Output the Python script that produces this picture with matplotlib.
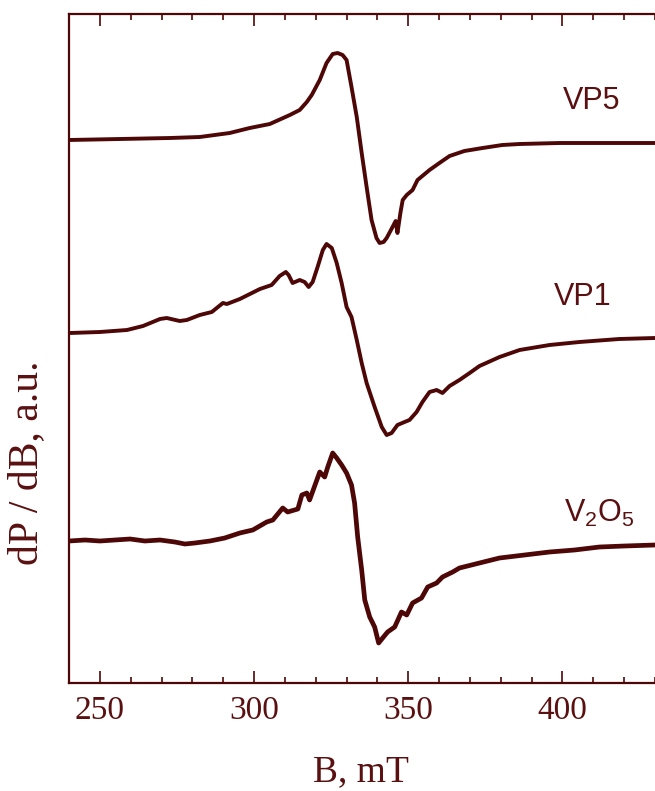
import matplotlib.pyplot as plt
from matplotlib.ticker import MultipleLocator

plt.rcParams["mathtext.fontset"] = "custom"
plt.rcParams["mathtext.rm"] = "Liberation Sans"

LINE_COLOR = "#4e0707"
TEXT_COLOR = "#5a1010"

# field values [mT] and signal (above each trace's own baseline)
VP5_B = [240.0, 256.5, 272.7, 282.4, 292.1, 298.6, 305.1, 311.6, 314.8, 317.1, 318.7,
         321.3, 323.5, 325.5, 327.1, 328.7, 330.0, 331.6, 333.3, 334.9, 336.5, 338.1,
         339.7, 340.7, 342.0, 343.0, 344.9, 345.9, 346.5, 347.5, 348.2, 349.5, 351.4,
         353.0, 356.9, 360.1, 363.4, 368.2, 374.1, 380.5, 386.1, 399.0, 412.0, 430.0]
VP5_S = [0, 1, 2, 3, 7, 12, 16, 25, 30, 38, 45,
         60, 77, 86, 87, 85, 80, 53, 23, -13, -47, -80,
         -98, -103, -102, -98, -87, -81, -93, -72, -60, -55, -50,
         -40, -30, -23, -16, -11, -8, -5, -4, -3, -3, -3]

VP1_B = [240.3, 250.0, 258.8, 264.0, 269.5, 271.7, 275.9, 278.2, 282.4, 286.3, 289.9,
         291.2, 295.4, 299.3, 301.9, 305.7, 308.3, 310.3, 311.2, 312.5, 314.8, 316.4,
         317.7, 319.0, 320.6, 322.3, 323.5, 325.2, 326.8, 328.4, 330.0, 331.6, 333.3,
         334.9, 336.5, 339.1, 341.4, 343.0, 344.6, 346.5, 348.8, 350.4, 352.7, 354.6,
         356.9, 359.2, 361.1, 363.4, 366.6, 369.9, 373.1, 379.6, 386.1, 395.8, 405.5,
         418.4, 430.0]
VP1_S = [0, 1, 3, 7, 14, 15, 12, 13, 18, 21, 30,
         29, 34, 40, 44, 48, 57, 61, 58, 50, 53, 51,
         46, 51, 66, 83, 89, 85, 70, 50, 26, 16, -7,
         -30, -50, -74, -94, -102, -100, -92, -89, -87, -79, -69,
         -59, -57, -60, -53, -47, -40, -33, -24, -17, -12, -9,
         -6, -5]

V2O5_B = [240.0, 245.2, 250.0, 254.9, 259.8, 264.6, 269.5, 274.3, 277.6, 280.8, 285.7,
          290.5, 295.4, 299.6, 304.1, 306.1, 309.3, 310.9, 314.2, 315.5, 317.1, 318.0,
          321.3, 322.9, 323.9, 325.5, 326.8, 328.4, 330.0, 331.6, 332.6, 333.6, 334.9,
          335.9, 337.5, 339.1, 340.4, 341.7, 343.3, 345.6, 347.8, 349.5, 351.4, 354.3,
          356.3, 359.2, 361.1, 364.4, 366.6, 373.1, 379.6, 387.7, 395.8, 403.9, 412.0,
          420.1, 430.0]
V2O5_S = [0, 1, 0, 1, 2, 0, 1, -1, -3, -2, 0,
          3, 8, 11, 19, 21, 33, 29, 32, 46, 48, 41,
          69, 64, 74, 88, 83, 76, 68, 56, 38, 4, -29,
          -59, -76, -86, -102, -97, -91, -86, -71, -74, -62, -57,
          -46, -42, -36, -31, -27, -22, -17, -14, -11, -9, -6,
          -5, -4]

# vertical stacking of the three spectra
OFFSETS = {"VP5": 543, "VP1": 350, "V2O5": 142}


def main():
    fig = plt.figure(figsize=(6.55, 7.91), dpi=100)
    ax = fig.add_axes([69 / 655, 1 - 683 / 791, 586 / 655, 669 / 791])

    line_kw = dict(color=LINE_COLOR, solid_joinstyle="round", solid_capstyle="round")
    ax.plot(VP5_B, [s + OFFSETS["VP5"] for s in VP5_S], lw=2.8, **line_kw)
    ax.plot(VP1_B, [s + OFFSETS["VP1"] for s in VP1_S], lw=2.8, **line_kw)
    ax.plot(V2O5_B, [s + OFFSETS["V2O5"] for s in V2O5_S], lw=3.4, **line_kw)

    ax.set_xlim(240, 430)
    ax.set_ylim(0, 669)

    ax.xaxis.set_major_locator(MultipleLocator(50))
    ax.xaxis.set_minor_locator(MultipleLocator(10))
    ax.tick_params(axis="x", which="both", direction="in", top=True, colors=LINE_COLOR,
                   labelcolor=TEXT_COLOR, width=1.2, pad=9)
    ax.tick_params(axis="x", which="major", length=8.5)
    ax.tick_params(axis="x", which="minor", length=4.3)
    ax.set_yticks([])
    for lbl in ax.get_xticklabels():
        lbl.set_fontfamily("Liberation Serif")
        lbl.set_fontsize(24)

    for side, sp in ax.spines.items():
        sp.set_color(LINE_COLOR)
        sp.set_linewidth(1.6)
    ax.spines["right"].set_visible(False)

    lab_font = dict(family="Liberation Sans", fontsize=22, color=TEXT_COLOR, ha="center", va="center")
    ax.text(409.5, 683 - 101, "VP5", **lab_font)
    ax.text(406.5, 683 - 297, "VP1", **lab_font)
    ax.text(412.0, 683 - 513, r"V$_\mathrm{2}$O$_\mathrm{5}$", **lab_font)

    fig.text(361 / 655, 1 - 781 / 791, "B, mT", family="Liberation Serif", fontsize=27,
             color=TEXT_COLOR, ha="center", va="baseline")
    fig.text(27 / 655, 1 - 463 / 791, "dP / dB, a.u.", family="Liberation Serif", fontsize=30,
             color=TEXT_COLOR, ha="center", va="center", rotation=90)

    fig.savefig("out.png", dpi=100)


if __name__ == "__main__":
    main()
